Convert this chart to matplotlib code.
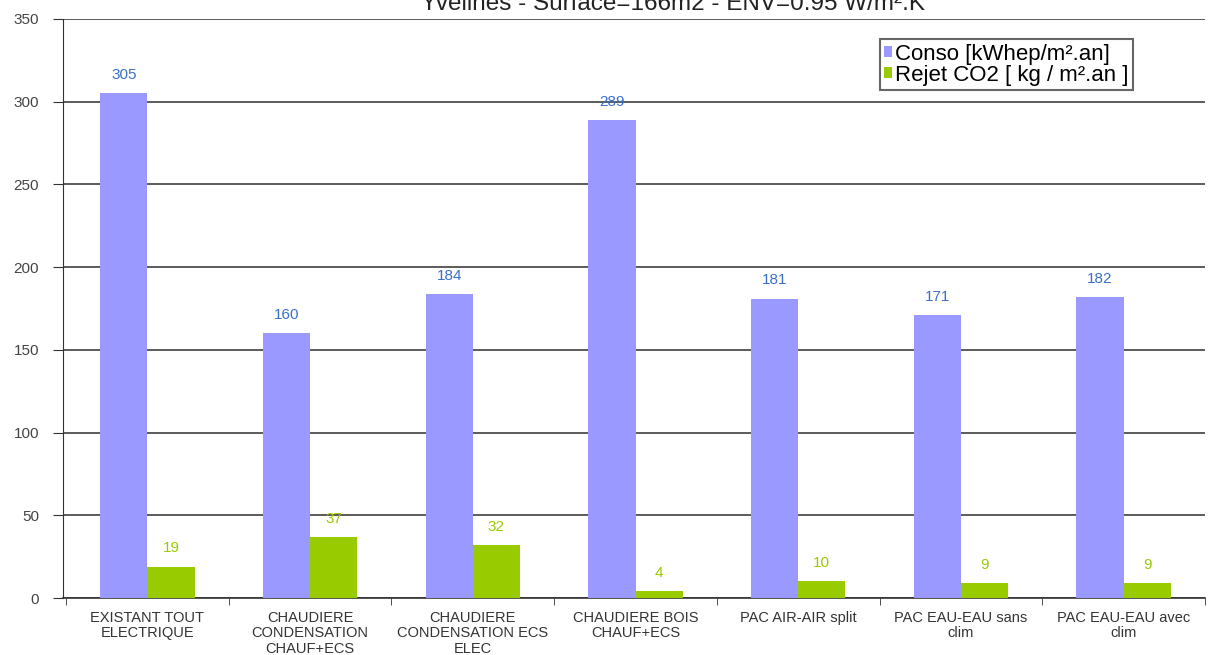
import numpy as np
import matplotlib.pyplot as plt

# donnees
categories = ['EXISTANT TOUT\nELECTRIQUE',
              'CHAUDIERE\nCONDENSATION\nCHAUF+ECS',
              'CHAUDIERE\nCONDENSATION ECS\nELEC',
              'CHAUDIERE BOIS\nCHAUF+ECS',
              'PAC AIR-AIR split',
              'PAC EAU-EAU sans\nclim',
              'PAC EAU-EAU avec\nclim']
conso = [305, 160, 184, 289, 181, 171, 182]
rejet_co2 = [19, 37, 32, 4, 10, 9, 9]
yticks = [0, 50, 100, 150, 200, 250, 300, 350]

plt.rcParams['font.family'] = ['Liberation Sans', 'DejaVu Sans']

fig = plt.figure(figsize=(12.08, 6.55), dpi=100)
ax = fig.add_axes([0.052, 0.087, 0.9455, 0.884])

x = np.arange(len(categories))
w = 0.29

bars1 = ax.bar(x - w / 2, conso, w, color='#9999ff', label='Conso [kWhep/m².an]', zorder=3)
bars2 = ax.bar(x + w / 2, rejet_co2, w, color='#99cc00', label='Rejet CO2 [ kg / m².an ]', zorder=3)

for b, v in zip(bars1, conso):
	ax.annotate(str(v), (b.get_x() + b.get_width() / 2, v), xytext=(0, 8),
		textcoords='offset points', ha='center', va='bottom',
		fontsize=11, color='#3a6fc9')

for b, v in zip(bars2, rejet_co2):
	ax.annotate(str(v), (b.get_x() + b.get_width() / 2, v), xytext=(0, 8),
		textcoords='offset points', ha='center', va='bottom',
		fontsize=11, color='#99cc00')

ax.set_xlim(-0.52, len(categories) - 0.5)
ax.set_ylim(0, 350)
ax.set_yticks(yticks)
ax.yaxis.grid(True, color='#404040', linewidth=1.2, zorder=0)
ax.tick_params(axis='y', direction='out', length=7, color='#333333',
	labelsize=11, labelcolor='#444444', pad=10)

ax.set_xticks(x)
ax.set_xticklabels(categories, fontsize=10.5, color='#333333', linespacing=1.15)
ax.set_xticks(np.arange(len(categories) + 1) - 0.5, minor=True)
ax.tick_params(axis='x', which='major', length=0, pad=9)
ax.tick_params(axis='x', which='minor', direction='out', length=5, color='#333333')

ax.spines['right'].set_visible(False)
ax.spines['top'].set_visible(False)
ax.spines['left'].set_color('#333333')
ax.spines['bottom'].set_color('#333333')
ax.spines['bottom'].set_linewidth(1.2)

leg = ax.legend(loc='upper right', bbox_to_anchor=(0.937, 0.965), fontsize=16,
	frameon=True, fancybox=False, edgecolor='#666666', framealpha=1,
	handlelength=0.35, handleheight=0.35, handletextpad=0.15,
	borderpad=0.2, labelspacing=0.0, borderaxespad=0)
leg.get_frame().set_linewidth(1.5)

fig.text(0.557, 0.9847, 'Yvelines - Surface=166m2 - ENV=0.95 W/m².K',
	ha='center', va='baseline', fontsize=17.5, color='#222222')

fig.savefig('out.png', dpi=100)
